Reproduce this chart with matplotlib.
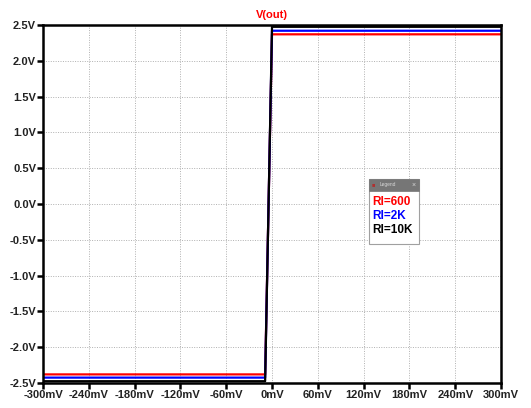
import matplotlib
matplotlib.use("Agg")
import matplotlib.pyplot as plt
from matplotlib.patches import Rectangle

plt.rcParams['font.family'] = ['Liberation Sans', 'DejaVu Sans']

vin_mv = [-300, -9, 0, 300]
labels = ["Rl=600", "Rl=2K", "Rl=10K"]
colors = ["#ff0000", "#0000ff", "#000000"]
vout = [
    [-2.38, -2.38, 2.37, 2.37],
    [-2.425, -2.425, 2.42, 2.42],
    [-2.475, -2.475, 2.475, 2.475],
]
xticks = [-300, -240, -180, -120, -60, 0, 60, 120, 180, 240, 300]
yticks = [-2.5, -2.0, -1.5, -1.0, -0.5, 0.0, 0.5, 1.0, 1.5, 2.0, 2.5]

fig = plt.figure(figsize=(5.31, 4.08), dpi=100)
ax = fig.add_axes([0.081, 0.0613, 0.8625, 0.8774])

for y, c in zip(vout, colors):
    ax.plot(vin_mv, y, color=c, lw=1.6, solid_capstyle='butt')

ax.set_xlim(-300, 300)
ax.set_ylim(-2.5, 2.5)
ax.set_xticks(xticks)
ax.set_xticklabels([f"{v}mV" for v in xticks])
ax.set_yticks(yticks)
ax.set_yticklabels([f"{v:.1f}V" for v in yticks])
ax.grid(True, color='#b0b0b0', linestyle=(0, (1, 1.5)), lw=0.7)
for s in ax.spines.values():
    s.set_linewidth(1.8)
    s.set_color('black')
ax.tick_params(axis='both', length=4, width=1.8, direction='out', labelsize=8,
               colors='black', pad=1)
for t in ax.get_xticklabels() + ax.get_yticklabels():
    t.set_fontweight('bold')
    t.set_color('#222222')

fig.text(272/531, 1 - 15/408, "V(out)", color='#ff0000', fontsize=8, fontweight='bold',
         ha='center', va='center')

# legend box
lx0, ly0, lw_, lh_ = 369, 179, 50, 65
def fx(px): return px/531
def fy(py): return 1 - py/408
fig.patches.append(Rectangle((fx(lx0), fy(ly0 + lh_)), lw_/531, lh_/408, transform=fig.transFigure,
                             facecolor='white', edgecolor='#a0a0a0', lw=0.8, zorder=5))
fig.patches.append(Rectangle((fx(lx0), fy(ly0 + 12)), lw_/531, 12/408, transform=fig.transFigure,
                             facecolor='#767676', edgecolor='#767676', lw=0.5, zorder=6))
fig.text(fx(lx0 + 11), fy(ly0 + 6), "Legend", color='#d8d8d8', fontsize=3.5, va='center', zorder=7)
fig.text(fx(lx0 + 45), fy(ly0 + 6), "×", color='#d8d8d8', fontsize=5, va='center', ha='center', zorder=7)
fig.text(fx(lx0 + 3), fy(ly0 + 6), "■", color='#b03030', fontsize=4, va='center', zorder=7)
for i, (lab, c) in enumerate(zip(labels, colors)):
    fig.text(fx(lx0 + 3), fy(ly0 + 23 + i * 14), lab, color=c, fontsize=8.5, fontweight='bold',
             va='center', zorder=7)

fig.savefig("out.png", dpi=100)
